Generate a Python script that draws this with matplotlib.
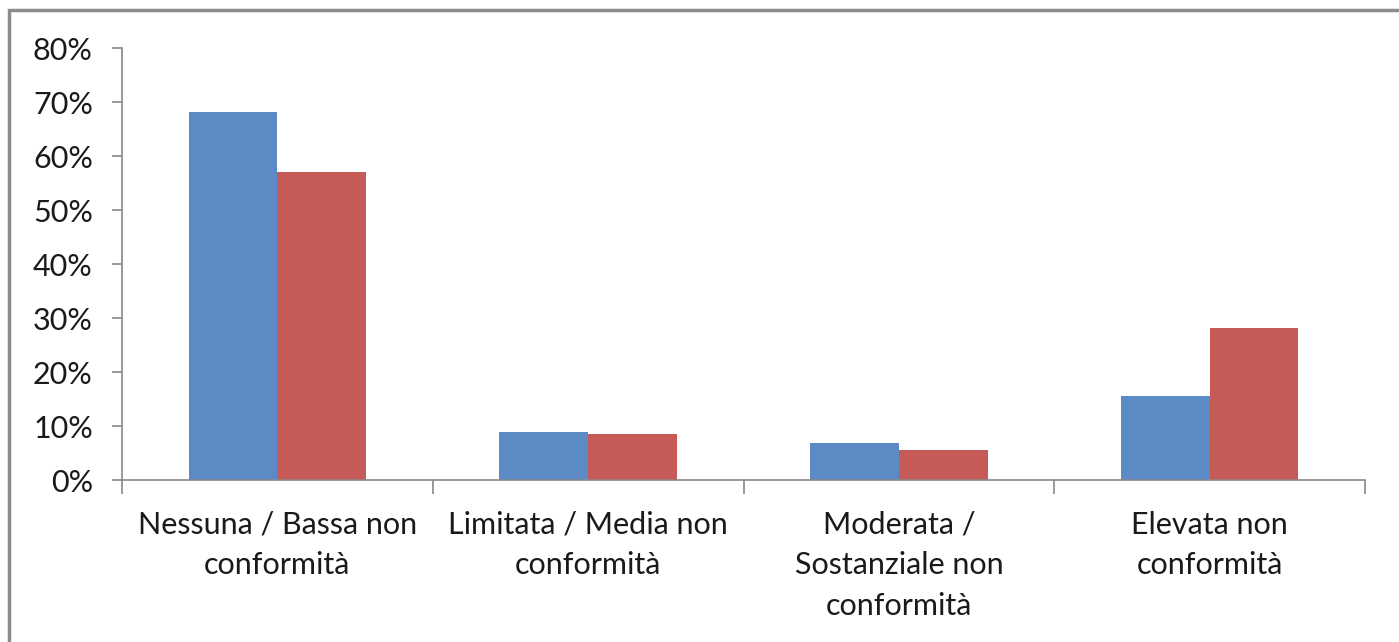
import matplotlib.pyplot as plt
from matplotlib.patches import Rectangle
from matplotlib.ticker import PercentFormatter, FixedLocator
import numpy as np

# Dati
categorie = ['Nessuna / Bassa non\nconformità',
             'Limitata / Media non\nconformità',
             'Moderata /\nSostanziale non\nconformità',
             'Elevata non\nconformità']
serie_blu = [68.1, 8.95, 6.8, 15.6]
serie_rossa = [57.0, 8.6, 5.6, 28.1]
tick_y = [0, 10, 20, 30, 40, 50, 60, 70, 80]

plt.rcParams['font.family'] = ['Lato', 'DejaVu Sans']

fig = plt.figure(figsize=(13.99, 6.42), dpi=100)
ax = fig.add_axes([122 / 1399, 162 / 642, 1243 / 1399, 432 / 642])

# bordo del riquadro (tagliato a destra e in basso)
fig.patches.append(Rectangle((9 / 1399, -0.1), 1.2, (632 / 642) + 0.1,
                             transform=fig.transFigure, fill=False,
                             edgecolor='#8c8c8c', linewidth=2.5))

x = np.arange(len(categorie))
w = 0.286
ax.bar(x - w / 2, serie_blu, w, color='#5b8ac4')
ax.bar(x + w / 2, serie_rossa, w, color='#c55a57')

ax.set_xlim(-0.5, len(categorie) - 0.5)
ax.set_ylim(0, 80)
ax.set_yticks(tick_y)
ax.yaxis.set_major_formatter(PercentFormatter(decimals=0))

ax.xaxis.set_major_locator(FixedLocator(np.arange(-0.5, len(categorie), 1)))
ax.xaxis.set_major_formatter(plt.NullFormatter())
ax.xaxis.set_minor_locator(FixedLocator(x))
ax.set_xticklabels(categorie, minor=True, fontsize=22, color='#1a1a1a',
                   linespacing=1.56)

ax.tick_params(axis='x', which='major', length=10, width=1.2, color='#888888')
ax.tick_params(axis='x', which='minor', length=0, pad=22)
ax.tick_params(axis='y', length=7, width=1.2, color='#888888', pad=14,
               labelsize=22, labelcolor='#1a1a1a')

for s in ['top', 'right']:
    ax.spines[s].set_visible(False)
for s in ['left', 'bottom']:
    ax.spines[s].set_color('#888888')
    ax.spines[s].set_linewidth(1.2)

fig.savefig('out.png', dpi=100)
